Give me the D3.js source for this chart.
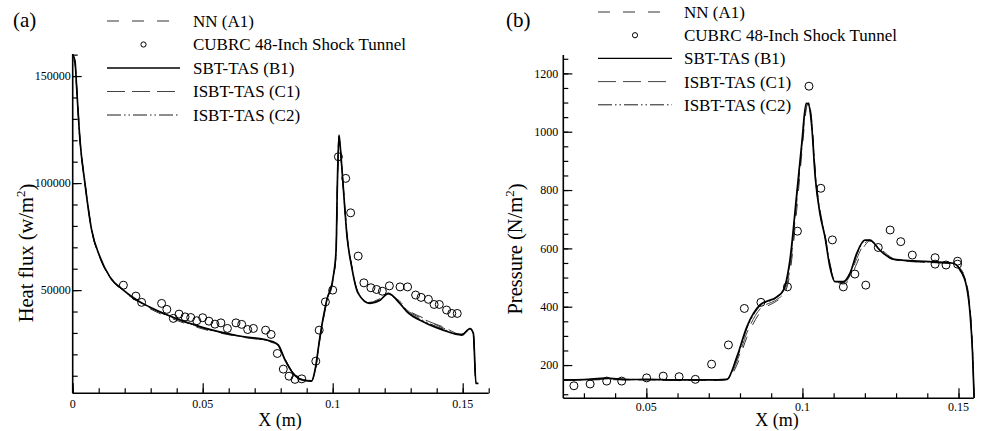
<!DOCTYPE html>
<html>
<head>
<meta charset="utf-8">
<script src="https://cdn.jsdelivr.net/npm/d3@7"></script>
<style>
  html, body { margin: 0; padding: 0; background: #fff; }
  svg { display: block; }
  text { font-family: "Liberation Serif", "Times New Roman", serif; fill: #000; }
</style>
</head>
<body>
<svg id="chart" width="986" height="431"></svg>
<script>
// ---- (a) surface heat flux ----
const heatX = [0, 0.0009, 0.0015, 0.0028, 0.0047, 0.0073, 0.0105, 0.0143, 0.0195, 0.0259, 0.0336, 0.0386, 0.0502, 0.0631, 0.0772, 0.0791, 0.0817, 0.0848, 0.0887, 0.0919, 0.0932, 0.0951, 0.0977, 0.1002, 0.1013, 0.1018, 0.1024, 0.1028, 0.1035, 0.1047, 0.1054, 0.1073, 0.1098, 0.1143, 0.1182, 0.1214, 0.1258, 0.1285, 0.1348, 0.1425, 0.1496, 0.1528, 0.1541, 0.1551, 0.1560];
const heatA1 = [158000, 155500, 146000, 121000, 100500, 78500, 65000, 55800, 49500, 44000, 39000, 36500, 31800, 28400, 25300, 24000, 17800, 11500, 8200, 7800, 11800, 27000, 44000, 55000, 66500, 96000, 120500, 117000, 107000, 88500, 77500, 61500, 49000, 44300, 46000, 47300, 44800, 41200, 37000, 32300, 29500, 31500, 29500, 6400, 6400];
const heatB1 = [160000, 157000, 145000, 120000, 100000, 78000, 65500, 56200, 50000, 44500, 39900, 37300, 32500, 28800, 25800, 24300, 17300, 11100, 7900, 7500, 12600, 28200, 45300, 56200, 68700, 99900, 122400, 118500, 107600, 87400, 76500, 60900, 48500, 43800, 45300, 48500, 43800, 40000, 35200, 31300, 29000, 32000, 29800, 6400, 6400];
const heatC1 = [159000, 156000, 145500, 120500, 100200, 78200, 65200, 56000, 49800, 44200, 39500, 37000, 32200, 28600, 25600, 24200, 17500, 11300, 8000, 7600, 12200, 27800, 44800, 55800, 67800, 98500, 121500, 118000, 107300, 88000, 77000, 61200, 48800, 44000, 45800, 48000, 44300, 40800, 36500, 32800, 29300, 31800, 29600, 6400, 6400];
const heatC2 = [160000, 156500, 144500, 119500, 99800, 77800, 65300, 56100, 49900, 44400, 39700, 37200, 32400, 28700, 25700, 24200, 17200, 11000, 7900, 7500, 12400, 28000, 45000, 56000, 68200, 99200, 122000, 118200, 107400, 87600, 76800, 61000, 48600, 43900, 45500, 48300, 44000, 40300, 35800, 31800, 29200, 31900, 29700, 6400, 6400];
const heatExpX = [0.0195, 0.0243, 0.0265, 0.0342, 0.0362, 0.0387, 0.0409, 0.0432, 0.0454, 0.0477, 0.0500, 0.0524, 0.0547, 0.0570, 0.0595, 0.0628, 0.0650, 0.0673, 0.0695, 0.0742, 0.0763, 0.0787, 0.0810, 0.0832, 0.0855, 0.0881, 0.0935, 0.0948, 0.0972, 0.1000, 0.1022, 0.1050, 0.1069, 0.1098, 0.1120, 0.1147, 0.1169, 0.1191, 0.1218, 0.1259, 0.1288, 0.1319, 0.1340, 0.1368, 0.1390, 0.1410, 0.1438, 0.1458, 0.1479];
const heatExp = [52300, 47200, 44300, 43800, 41000, 36800, 38800, 37500, 37200, 35700, 37100, 35500, 34100, 34700, 32100, 34700, 34000, 31600, 32100, 31300, 29300, 20400, 13100, 9800, 8300, 8550, 16800, 31300, 44500, 50000, 112300, 102200, 86100, 65900, 53400, 51100, 50300, 49500, 52000, 51500, 51500, 47700, 46600, 45700, 43300, 43300, 40700, 39100, 39100];
const heatXTicks = [0, 0.05, 0.1, 0.15];
const heatXTickLabels = ["0", "0.05", "0.1", "0.15"];
const heatYTicks = [50000, 100000, 150000];
const heatYTickLabels = ["50000", "100000", "150000"];

// ---- (b) surface pressure ----
const presX = [0.0234, 0.0300, 0.0370, 0.0440, 0.0500, 0.0600, 0.0700, 0.0758, 0.0790, 0.0822, 0.0864, 0.0918, 0.0939, 0.0960, 0.0982, 0.0998, 0.1012, 0.1019, 0.1030, 0.1041, 0.1056, 0.1072, 0.1088, 0.1104, 0.1131, 0.1152, 0.1174, 0.1200, 0.1216, 0.1248, 0.1291, 0.1355, 0.1419, 0.1483, 0.1505, 0.1526, 0.1537, 0.1545, 0.1550];
const presA1 = [147, 148, 150, 149, 149, 148, 147, 149, 200, 295, 380, 420, 438, 515, 735, 925, 1075, 1105, 1040, 870, 735, 650, 550, 492, 478, 495, 548, 610, 625, 600, 566, 555, 552, 546, 532, 480, 395, 260, 87];
const presB1 = [149, 150, 155, 150, 151, 149, 149, 151, 228, 331, 406, 434, 457, 560, 789, 960, 1097, 1095, 1017, 845, 720, 640, 537, 486, 486, 514, 583, 628, 628, 594, 563, 557, 554, 549, 526, 468, 377, 240, 87];
const presC1 = [148, 149, 152, 150, 150, 148, 148, 150, 212, 310, 392, 425, 445, 530, 760, 940, 1085, 1100, 1030, 860, 728, 645, 545, 490, 482, 505, 565, 618, 627, 596, 562, 554, 551, 547, 530, 475, 388, 250, 87];
const presC2 = [150, 150, 153, 151, 150, 149, 149, 151, 222, 325, 402, 432, 455, 552, 780, 955, 1092, 1098, 1022, 850, 722, 642, 540, 487, 484, 510, 578, 626, 628, 595, 563, 556, 553, 548, 528, 470, 380, 245, 87];
const presExpX = [0.0268, 0.0320, 0.0373, 0.0421, 0.0501, 0.0554, 0.0605, 0.0657, 0.0709, 0.0763, 0.0814, 0.0867, 0.0952, 0.0984, 0.1021, 0.1059, 0.1096, 0.1131, 0.1168, 0.1203, 0.1243, 0.1281, 0.1315, 0.1352, 0.1425, 0.1425, 0.1460, 0.1497, 0.1497];
const presExp = [129, 135, 145, 145, 156, 162, 160, 151, 203, 269, 394, 415, 468, 659, 1156, 806, 629, 468, 512, 474, 603, 663, 623, 577, 568, 546, 543, 556, 546];
const presXTicks = [0.05, 0.1, 0.15];
const presXTickLabels = ["0.05", "0.1", "0.15"];
const presYTicks = [200, 400, 600, 800, 1000, 1200];
const presYTickLabels = ["200", "400", "600", "800", "1000", "1200"];

const legendNames = ["NN (A1)", "CUBRC 48-Inch Shock Tunnel", "SBT-TAS (B1)", "ISBT-TAS (C1)", "ISBT-TAS (C2)"];

// line styles for the four computed curves
const styles = {
  A1: { stroke: "#333", width: 1.0, dash: "12,13" },
  B1: { stroke: "#000", width: 1.7, dash: null },
  C1: { stroke: "#444", width: 1.0, dash: "18,7" },
  C2: { stroke: "#000", width: 0.9, dash: "14,3,1.5,3,1.5,3" }
};

const svg = d3.select("#chart");

function panel(cfg) {
  const x = d3.scaleLinear().domain(cfg.xDomain).range(cfg.xRange);
  const y = d3.scaleLinear().domain(cfg.yDomain).range(cfg.yRange);
  const g = svg.append("g");

  // axes with inward ticks
  const xMinor = d3.range(cfg.xMinorStart, cfg.xDomain[1] + 1e-9, 0.01).filter(v => v >= cfg.xDomain[0] - 1e-9);
  const xAxisMinor = d3.axisTop(x).tickValues(xMinor).tickSize(5).tickFormat("");
  const xAxisMajor = d3.axisTop(x).tickValues(cfg.xTicks).tickSize(10).tickFormat("");
  [xAxisMinor, xAxisMajor].forEach(ax => {
    g.append("g").attr("transform", `translate(0,${cfg.yRange[0]})`).call(ax)
      .call(s => s.select(".domain").remove())
      .call(s => s.selectAll("line").attr("stroke", "#000").attr("stroke-width", 1.2));
  });
  const yMinor = d3.range(cfg.yMinorStart, cfg.yDomain[1] + 1e-6, cfg.yMinorStep);
  const yAxisMinor = d3.axisRight(y).tickValues(yMinor).tickSize(5).tickFormat("");
  const yAxisMajor = d3.axisRight(y).tickValues(cfg.yTicks).tickSize(9).tickFormat("");
  [yAxisMinor, yAxisMajor].forEach(ax => {
    g.append("g").attr("transform", `translate(${cfg.xRange[0]},0)`).call(ax)
      .call(s => s.select(".domain").remove())
      .call(s => s.selectAll("line").attr("stroke", "#000").attr("stroke-width", 1.2));
  });
  // axis lines (left and bottom only)
  g.append("line").attr("x1", cfg.xRange[0]).attr("x2", cfg.xRange[1])
    .attr("y1", cfg.yRange[0]).attr("y2", cfg.yRange[0]).attr("stroke", "#000").attr("stroke-width", 1.6);
  g.append("line").attr("x1", cfg.xRange[0]).attr("x2", cfg.xRange[0])
    .attr("y1", cfg.yRange[0]).attr("y2", cfg.yRange[1]).attr("stroke", "#000").attr("stroke-width", 1.6);

  // tick labels
  g.selectAll(".xl").data(cfg.xTicks).enter().append("text")
    .attr("x", d => x(d)).attr("y", cfg.yRange[0] + cfg.xLabelGap)
    .attr("text-anchor", "middle").attr("font-size", 12)
    .text((d, i) => cfg.xTickLabels[i]);
  g.selectAll(".yl").data(cfg.yTicks).enter().append("text")
    .attr("x", cfg.xRange[0] - cfg.yLabelGap).attr("y", d => y(d)).attr("dy", "0.35em")
    .attr("text-anchor", "end").attr("font-size", 12)
    .text((d, i) => cfg.yTickLabels[i]);

  // axis titles
  g.append("text").attr("x", cfg.xTitleX).attr("y", 425.5).attr("text-anchor", "middle")
    .attr("font-size", 18).text("X (m)");
  const yt = g.append("text")
    .attr("transform", `translate(${cfg.yTitleX},${cfg.yTitleY}) rotate(-90)`)
    .attr("text-anchor", "middle").attr("font-size", 20.5);
  yt.append("tspan").text(cfg.yTitle);
  yt.append("tspan").attr("font-size", 13).attr("dy", "-0.6em").text("2");
  yt.append("tspan").attr("dy", "0.45em").text(")");

  // panel tag
  g.append("text").attr("x", cfg.tagX).attr("y", 27).attr("font-size", 21).text(cfg.tag);

  // curves
  const line = d3.line().x(d => x(d[0])).y(d => y(d[1])).curve(d3.curveMonotoneX);
  const plot = g.append("g");
  cfg.series.forEach(s => {
    const st = styles[s.key];
    plot.append("path")
      .datum(cfg.xs.map((v, i) => [v, s.values[i]]))
      .attr("d", line).attr("fill", "none")
      .attr("stroke", st.stroke).attr("stroke-width", st.width)
      .attr("stroke-dasharray", st.dash).attr("stroke-linejoin", "round");
  });
  plot.selectAll("circle.exp").data(cfg.expX.map((v, i) => [v, cfg.exp[i]])).enter()
    .append("circle").attr("class", "exp")
    .attr("cx", d => x(d[0])).attr("cy", d => y(d[1])).attr("r", 4)
    .attr("fill", "none").attr("stroke", "#000").attr("stroke-width", 1);

  // legend
  const lg = g.append("g");
  const keys = ["A1", "EXP", "B1", "C1", "C2"];
  keys.forEach((k, i) => {
    const yy = cfg.legY + i * cfg.legStep;
    if (k === "EXP") {
      lg.append("circle").attr("cx", (cfg.legX0 + cfg.legX1) / 2).attr("cy", yy).attr("r", 2.6)
        .attr("fill", "none").attr("stroke", "#000").attr("stroke-width", 1);
    } else {
      const st = styles[k];
      lg.append("line").attr("x1", cfg.legX0).attr("x2", cfg.legX1).attr("y1", yy).attr("y2", yy)
        .attr("stroke", st.stroke).attr("stroke-width", Math.min(st.width, 1.3))
        .attr("stroke-dasharray", st.dash);
    }
    lg.append("text").attr("x", cfg.legText).attr("y", yy).attr("dy", "0.35em")
      .attr("font-size", 17).text(legendNames[i]);
  });
}

panel({
  tag: "(a)", tagX: 13,
  xDomain: [0, 0.16], xRange: [72.7, 488.7], xMinorStart: 0,
  yDomain: [1800, 160300], yRange: [393.3, 54], yMinorStart: 10000, yMinorStep: 10000,
  xTicks: heatXTicks, xTickLabels: heatXTickLabels, xLabelGap: 15,
  yTicks: heatYTicks, yTickLabels: heatYTickLabels, yLabelGap: 2,
  xTitleX: 280, yTitleX: 33, yTitleY: 253, yTitle: "Heat flux (w/m",
  xs: heatX,
  series: [{ key: "A1", values: heatA1 }, { key: "C1", values: heatC1 }, { key: "C2", values: heatC2 }, { key: "B1", values: heatB1 }],
  expX: heatExpX, exp: heatExp,
  legX0: 107, legX1: 180, legText: 193, legY: 21, legStep: 23.5
});

panel({
  tag: "(b)", tagX: 506,
  xDomain: [0.0234, 0.1549], xRange: [563.3, 973.8], xMinorStart: 0.03,
  yDomain: [86, 1263], yRange: [398.3, 55], yMinorStart: 100, yMinorStep: 50,
  xTicks: presXTicks, xTickLabels: presXTickLabels, xLabelGap: 13,
  yTicks: presYTicks, yTickLabels: presYTickLabels, yLabelGap: 5,
  xTitleX: 777, yTitleX: 522, yTitleY: 249, yTitle: "Pressure (N/m",
  xs: presX,
  series: [{ key: "A1", values: presA1 }, { key: "C1", values: presC1 }, { key: "C2", values: presC2 }, { key: "B1", values: presB1 }],
  expX: presExpX, exp: presExp,
  legX0: 598, legX1: 672, legText: 684, legY: 12, legStep: 23.2
});
</script>
</body>
</html>
